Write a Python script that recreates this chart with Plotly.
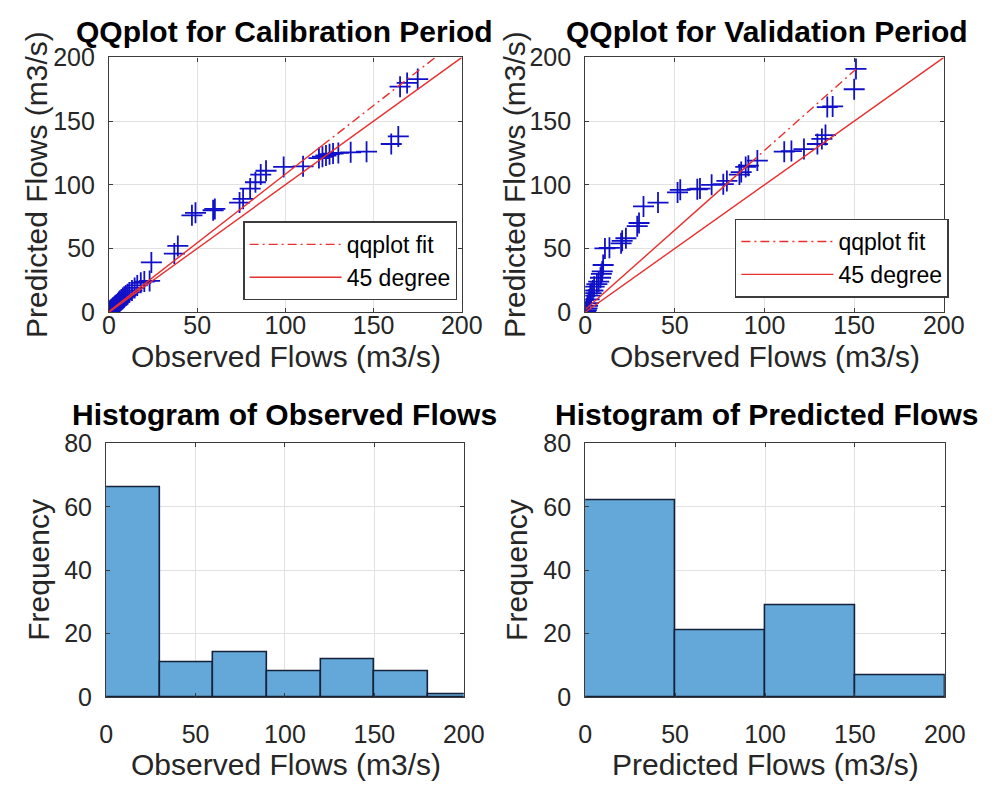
import plotly.graph_objects as go

# ---------------- data ----------------
calib_obs = [0.3, 0.6, 1.0, 1.4, 1.8, 2.2, 2.6, 3.0, 3.5, 4.0,
             4.5, 5.0, 5.6, 6.2, 7.0, 7.8, 8.6, 9.5, 10.5, 11.5,
             13, 14.5, 16, 18, 20, 23, 24,
             37, 39, 47, 49, 59, 60,
             74, 76, 80, 83, 86, 89,
             99, 110,
             119, 121, 123, 125, 127, 130, 137, 146,
             160, 164,
             165, 169, 175]
calib_pred = [0.5, 1, 1.5, 2, 2.5, 3, 3.5, 4, 5, 5.5,
              6, 7, 8, 9, 10, 11, 12, 13, 14, 15.5,
              17, 19, 21, 23, 24, 24.5, 39,
              46, 52, 76, 78, 80, 81,
              86, 89, 97, 102, 108, 111,
              114, 114.5,
              121, 122, 123, 124, 124.5, 125, 125.5, 126,
              132, 138,
              177, 180, 183]

valid_obs = [0.3, 0.6, 1.0, 1.3, 1.8, 2.2, 2.8, 3.3, 4.3, 5.0,
             6.5, 7.5, 8.5, 9.0, 9.5, 10, 11, 13.5, 20, 20.6,
             22.7, 29, 30, 32.5, 40.6, 51.5, 53, 62.5, 64, 70.5,
             77, 79, 86, 87, 89.5, 91, 96, 111, 115, 122,
             129.5, 132, 134, 135, 138, 150, 151]
valid_pred = [0.5, 1.5, 3, 5, 7, 10, 13, 15, 17, 20,
              22, 24, 27, 30, 32, 37, 50, 50.5, 54, 56,
              58, 67.5, 70, 83, 86, 94, 96, 96.5, 97, 100,
              100.5, 103, 108, 110, 114, 115, 119, 126, 126.5, 128,
              132, 136, 139, 161, 161.5, 175, 191]

# qqplot fit anchors (1st and 3rd quartile points)
calib_fit_x = [3.5, 121]
calib_fit_y = [4.3, 131]
valid_fit_x = [1.5, 92]
valid_fit_y = [3.9, 117]
calib_fit_end = 200   # dash-dot extension reaches past the axis limit
valid_fit_end = 151

# histograms
obs_bin_edges = [0, 30, 60, 90, 120, 150, 180, 210]
obs_counts = [66, 11, 14, 8, 12, 8, 1]
pred_bin_edges = [0, 50, 100, 150, 200]
pred_counts = [62, 21, 29, 7]

qq_ticks = [0, 50, 100, 150, 200]
freq_ticks = [0, 20, 40, 60, 80]

# ---------------- layout helpers ----------------
W, H = 993, 796
def fx(px):
    return px / W
def fy(py):
    return 1 - py / H

FONT = "Liberation Sans, Arial, sans-serif"
TICKC = "#262626"
RED = "#e8302e"
BLUE = "#1010c8"

fig = go.Figure()

def extend(xq, yq, x0, x1):
    s = (yq[1] - yq[0]) / (xq[1] - xq[0])
    return [x0, x1], [yq[0] + s * (x0 - xq[0]), yq[0] + s * (x1 - xq[0])]

def qq_panel(xa, ya, obs, pred, fx_, fy_, xend, leg):
    fig.add_trace(go.Scatter(x=obs, y=pred, mode="markers", xaxis=xa, yaxis=ya,
                             marker=dict(symbol="cross-thin", size=15,
                                         line=dict(color=BLUE, width=1.8)),
                             showlegend=False, cliponaxis=True))
    fig.add_trace(go.Scatter(x=[qq_ticks[0], qq_ticks[-1]], y=[qq_ticks[0], qq_ticks[-1]],
                             mode="lines", xaxis=xa, yaxis=ya,
                             line=dict(color=RED, width=1.4), name="45 degree",
                             legend=leg, legendrank=2))
    fig.add_trace(go.Scatter(x=fx_, y=fy_, mode="lines", xaxis=xa, yaxis=ya,
                             line=dict(color=RED, width=1.4), showlegend=False))
    ex, ey = extend(fx_, fy_, fx_[1], xend)
    fig.add_trace(go.Scatter(x=ex, y=ey, mode="lines", xaxis=xa, yaxis=ya,
                             line=dict(color=RED, width=1.4, dash="9px,4px,2px,4px"),
                             name="qqplot fit", legend=leg, legendrank=1))
    lx, ly = extend(fx_, fy_, min(obs), fx_[0])
    fig.add_trace(go.Scatter(x=lx, y=ly, mode="lines", xaxis=xa, yaxis=ya,
                             line=dict(color=RED, width=1.4, dash="9px,4px,2px,4px"),
                             showlegend=False))

qq_panel("x", "y", calib_obs, calib_pred, calib_fit_x, calib_fit_y, calib_fit_end, "legend")
qq_panel("x2", "y2", valid_obs, valid_pred, valid_fit_x, valid_fit_y, valid_fit_end, "legend2")

def hist_panel(xa, ya, edges, counts):
    centers = [(edges[i] + edges[i + 1]) / 2 for i in range(len(counts))]
    widths = [edges[i + 1] - edges[i] for i in range(len(counts))]
    fig.add_trace(go.Bar(x=centers, y=counts, width=widths, xaxis=xa, yaxis=ya,
                         marker=dict(color="#63a8d8", line=dict(color="#14213a", width=1.6)),
                         showlegend=False))

hist_panel("x3", "y3", obs_bin_edges, obs_counts)
hist_panel("x4", "y4", pred_bin_edges, pred_counts)

axis_common = dict(showline=True, mirror="ticks", linecolor="#3c3c3c", linewidth=1.2,
                   showgrid=True, gridcolor="#e2e2e2", gridwidth=1,
                   ticks="inside", ticklen=4, tickcolor="#3c3c3c",
                   tickfont=dict(family=FONT, size=25, color=TICKC),
                   zeroline=False, fixedrange=True)

doms = {
    "1": ([105, 468], [45, 309]),
    "2": ([595, 964], [45, 309]),
    "3": ([102, 470], [445, 708]),
    "4": ([595, 965], [445, 708]),
}
xstand = {"1": -9, "2": -9, "3": 15, "4": 15}
layout_axes = {}
for k, (xd, yd) in doms.items():
    xn = "xaxis" if k == "1" else "xaxis" + k
    yn = "yaxis" if k == "1" else "yaxis" + k
    xr = "y" if k == "1" else "y" + k
    yr = "x" if k == "1" else "x" + k
    layout_axes[xn] = dict(axis_common, domain=[fx(xd[0]), fx(xd[1])], anchor=xr,
                           range=[0, 200], tickvals=qq_ticks, ticklabelstandoff=xstand[k])
    yticks = qq_ticks if k in ("1", "2") else freq_ticks
    layout_axes[yn] = dict(axis_common, domain=[fy(yd[1]), fy(yd[0])], anchor=yr,
                           range=[yticks[0], yticks[-1]], tickvals=yticks,
                           ticklabelstandoff=8)

fig.update_layout(**layout_axes)

ann = []
def text(s, x, y, size, bold=False, angle=0, color=TICKC):
    ann.append(dict(text=f"<b>{s}</b>" if bold else s, x=fx(x), y=fy(y), xref="paper", yref="paper",
                    showarrow=False, xanchor="center", yanchor="middle", textangle=angle,
                    font=dict(family=FONT, size=size, color=color)))

text("QQplot for Calibration Period", 286, 18, 30, bold=True, color="#000000")
text("QQplot for Validation Period", 782, 18, 30, bold=True, color="#000000")
text("Histogram of Observed Flows", 286, 415, 30, bold=True, color="#000000")
text("Histogram of Predicted Flows", 782, 415, 30, bold=True, color="#000000")
text("Observed Flows (m3/s)", 287, 355, 30)
text("Observed Flows (m3/s)", 780, 355, 30)
text("Observed Flows (m3/s)", 287, 778, 30)
text("Predicted Flows (m3/s)", 780, 778, 30)
text("Predicted Flows (m3/s)", 31, 177, 30, angle=-90)
text("Predicted Flows (m3/s)", 523, 177, 30, angle=-90)
text("Frequency", 33, 576, 30, angle=-90)
text("Frequency", 525, 576, 30, angle=-90)

legend_common = dict(bgcolor="white", bordercolor="#3c3c3c", borderwidth=1.5,
                     font=dict(family=FONT, size=23, color="#000000"),
                     xanchor="left", yanchor="top", itemwidth=92,
                     traceorder="normal", tracegroupgap=0)

fig.update_layout(
    width=W, height=H, autosize=False,
    margin=dict(l=0, r=0, t=0, b=0),
    paper_bgcolor="white", plot_bgcolor="white",
    annotations=ann,
    legend=dict(legend_common, x=fx(243), y=fy(215)),
    legend2=dict(legend_common, x=fx(749), y=fy(212)),
    bargap=0,
)

fig.write_html("out.html")
